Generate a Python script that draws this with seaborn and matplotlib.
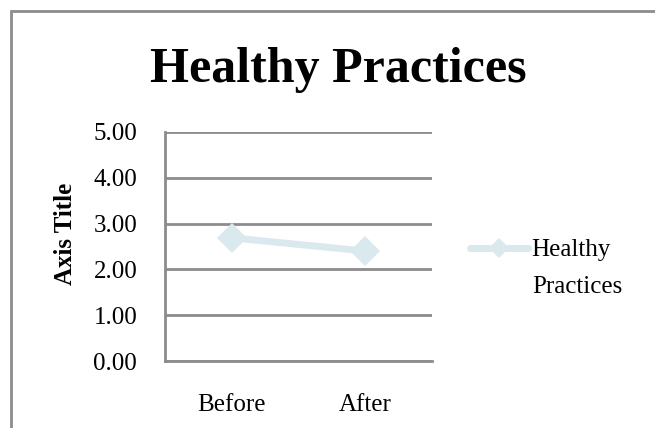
import matplotlib
matplotlib.use("Agg")
import matplotlib.pyplot as plt
import seaborn as sns
import pandas as pd
from matplotlib.patches import Rectangle
from matplotlib.lines import Line2D

categories = ["Before", "After"]
values = [2.69, 2.40]
series_name = "Healthy Practices"
legend_lines = ["Healthy", "Practices"]
yticks = [0, 1, 2, 3, 4, 5]
title = "Healthy Practices"
ylabel = "Axis Title"

sns.set_theme(style="white")
plt.rcParams['font.family'] = ['Liberation Serif', 'DejaVu Serif']
plt.rcParams['text.color'] = 'black'
plt.rcParams['xtick.color'] = 'black'
plt.rcParams['ytick.color'] = 'black'
plt.rcParams['axes.labelcolor'] = 'black'

W, H = 655, 428
df = pd.DataFrame({"cat": categories, "val": values})

fig = plt.figure(figsize=(W / 100, H / 100), dpi=100)
ax = fig.add_axes([165 / W, 1 - 361 / H, (432 - 165) / W, (361 - 132) / H])

line_color = "#DAE9EE"
sns.lineplot(data=df, x="cat", y="val", ax=ax, color=line_color, linewidth=5,
             marker="D", markersize=15, markeredgewidth=0, sort=False)

ax.set_xlim(-0.5, 1.5)
ax.set_ylim(0, 5)
ax.set_yticks(yticks)
ax.set_yticklabels([f"{v:.2f}" for v in yticks], fontsize=18)
ax.tick_params(axis="x", labelsize=18, length=0, pad=24)
ax.tick_params(axis="y", length=0, pad=20)
ax.set_xlabel("")
ax.set_ylabel("")
ax.yaxis.grid(True, color="#8C8C8C", linewidth=2)
ax.xaxis.grid(False)
for s in ["top", "right"]:
    ax.spines[s].set_visible(False)
for s in ["left", "bottom"]:
    ax.spines[s].set_color("#8C8C8C")
    ax.spines[s].set_linewidth(2)
ax.set_axisbelow(True)

fig.text(66 / W, 1 - 234 / H, ylabel, fontsize=18, fontweight="bold",
         rotation=90, ha="center", va="center")

fig.text(338 / W, 1 - 70 / H, title, fontsize=36, fontweight="bold",
         ha="center", va="center")

handle = Line2D([], [], color=line_color, linewidth=5, marker="D",
                markersize=10, markeredgewidth=0)
fig.legend([handle], [legend_lines[0]], loc="center left",
           bbox_to_anchor=(470 / W, 1 - 250 / H), frameon=False, fontsize=18,
           handlelength=2.3, handletextpad=0.15, borderaxespad=0,
           borderpad=0)
fig.text(532 / W, 1 - 293 / H, legend_lines[1], fontsize=18,
         ha="left", va="baseline")

fig.patches.append(Rectangle((11 / W, -0.1), 1.2, 1 - 11 / H + 0.1,
                             transform=fig.transFigure, fill=False,
                             edgecolor="#8C8C8C", linewidth=2))

fig.savefig("out.png", dpi=100)
